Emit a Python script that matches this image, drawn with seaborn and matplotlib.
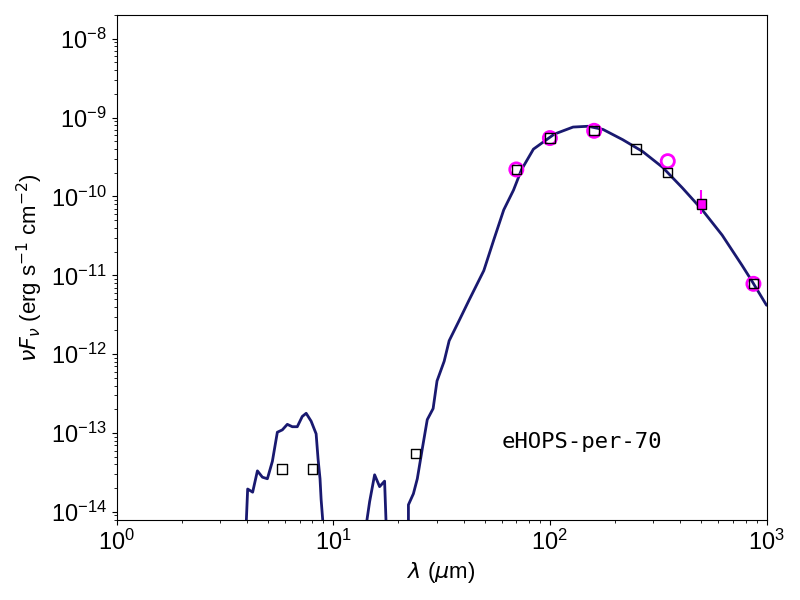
import numpy as np
import matplotlib
matplotlib.use("Agg")
import matplotlib.pyplot as plt
import seaborn as sns

# --- Data (log10 values) ---
model_logwav = [0.596, 0.605, 0.628, 0.650, 0.673, 0.696, 0.719, 0.742, 0.765, 0.788,
                0.811, 0.834, 0.857, 0.875, 0.898, 0.921, 0.930, 0.939, 0.944, 0.957, np.nan,
                1.145, 1.168, 1.191, 1.214, 1.237, 1.246, np.nan,
                1.347, 1.347, 1.370, 1.388, 1.411, 1.434, 1.461, 1.479, 1.512, 1.535, 1.580,
                1.626, 1.695, 1.741, 1.787, 1.832, 1.869, 1.924, 2.020, 2.107, 2.176, 2.245,
                2.336, 2.428, 2.520, 2.611, 2.703, 2.795, 2.886, 2.932, 3.000]
model_logflux = [-14.3, -13.71, -13.75, -13.48, -13.56, -13.58, -13.36, -12.99, -12.96, -12.89,
                 -12.92, -12.92, -12.79, -12.75, -12.85, -13.01, -13.33, -13.58, -13.84, -14.3, np.nan,
                 -14.3, -13.87, -13.53, -13.68, -13.61, -14.3, np.nan,
                 -14.3, -13.91, -13.77, -13.58, -13.20, -12.83, -12.69, -12.34, -12.09, -11.83, -11.58,
                 -11.32, -10.94, -10.55, -10.17, -9.92, -9.66, -9.40, -9.21, -9.12, -9.11, -9.15,
                 -9.28, -9.43, -9.63, -9.89, -10.17, -10.49, -10.87, -11.07, -11.38]

obs_wav = [5.8, 8.0, 24, 70, 100, 160, 250, 350, 500, 870]
obs_flux = [3.5e-14, 3.5e-14, 5.5e-14, 2.2e-10, 5.5e-10, 6.8e-10, 4.0e-10, 2.0e-10, 8.0e-11, 7.8e-12]

phot_wav = [70, 100, 160, 350, 870]
phot_flux = [2.2e-10, 5.5e-10, 6.8e-10, 2.8e-10, 7.8e-12]

lim_wav = [500]
lim_flux = [8.0e-11]

sns.set_style("ticks", {'text.color': 'black', 'axes.labelcolor': 'black',
                        'xtick.color': 'black', 'ytick.color': 'black', 'axes.edgecolor': 'black'})
plt.rcParams['font.family'] = ['Liberation Sans', 'DejaVu Sans']
plt.rcParams['mathtext.fontset'] = 'dejavusans'

fig, ax = plt.subplots(figsize=(8, 6), dpi=100)
ax.plot(10 ** np.array(model_logwav), 10 ** np.array(model_logflux),
        color='#191970', lw=2, zorder=2)
ax.scatter(phot_wav, phot_flux, s=90, facecolors='none', edgecolors='magenta', linewidths=2, zorder=3)
ax.errorbar(lim_wav, lim_flux, yerr=[[lim_flux[0] * 0.25], [lim_flux[0] * 0.5]],
            fmt='s', color='magenta', ms=6, lw=1.5, zorder=3)
ax.scatter(obs_wav, obs_flux, s=45, marker='s', facecolors='none', edgecolors='black', linewidths=1, zorder=4)

ax.set_xscale('log')
ax.set_yscale('log')
ax.set_xlim(1, 1000)
ax.set_ylim(8e-15, 2e-8)
ax.set_xlabel(r'$\lambda$ ($\mu$m)', fontsize=16)
ax.set_ylabel(r'$\nu F_\nu$ (erg s$^{-1}$ cm$^{-2}$)', fontsize=16)
ax.tick_params(labelsize=17)
ax.text(60, 6.5e-14, 'eHOPS-per-70', fontsize=16, family='DejaVu Sans Mono')

plt.tight_layout()
plt.savefig('out.png')
